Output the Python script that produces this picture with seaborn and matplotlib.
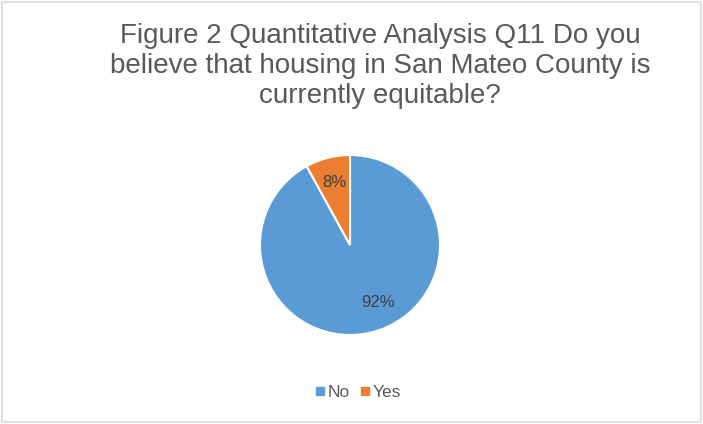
import matplotlib
matplotlib.use("Agg")
import matplotlib.pyplot as plt
from matplotlib.patches import Rectangle
from matplotlib.lines import Line2D
import seaborn as sns

# Survey answers and their shares
categories = ["No", "Yes"]
shares = [92, 8]
colors = ["#5B9BD5", "#ED7D31"]
title = ("Figure 2 Quantitative Analysis Q11 Do you\n"
         "believe that housing in San Mateo County is\n"
         "currently equitable?")

sns.set_theme(style="white")
plt.rcParams["font.family"] = ["Liberation Sans", "DejaVu Sans"]

W, H = 703, 424
fig = plt.figure(figsize=(W / 100, H / 100), dpi=100)
fig.patch.set_facecolor("white")

# light frame round the whole chart
fig.add_artist(Rectangle((2 / W, 2 / H), (W - 4) / W, (H - 4) / H,
                         transform=fig.transFigure, fill=False,
                         edgecolor="#d9d9d9", linewidth=1.2))

fig.text(380 / W, 1 - 66 / H, title, ha="center", va="center",
         fontsize=20, color="#595959", linespacing=1.22)

cx, cy, r = 350, 245, 90
ax = fig.add_axes([(cx - r) / W, (H - cy - r) / H, 2 * r / W, 2 * r / H])
wedges, texts, autotexts = ax.pie(
    shares, colors=colors, startangle=90, counterclock=False,
    autopct="%1.0f%%", pctdistance=0.72,
    wedgeprops=dict(edgecolor="white", linewidth=1.5),
    textprops=dict(fontsize=12, color="#404040"))
# best-fit placement of the large slice's label
autotexts[0].set_position((0.31, -0.64))
ax.set_xlim(-1, 1)
ax.set_ylim(-1, 1)
ax.set_aspect("equal")
ax.axis("off")

handles = [Line2D([], [], marker="s", linestyle="none", markersize=6,
                  markerfacecolor=c, markeredgecolor=c) for c in colors]
fig.legend(handles, categories, loc="center", ncol=2,
           bbox_to_anchor=(358 / W, 1 - 392 / H), frameon=False,
           fontsize=12.5, labelcolor="#595959", handletextpad=0.15,
           columnspacing=0.6, handlelength=0.55)

fig.savefig("out.png", dpi=100)
